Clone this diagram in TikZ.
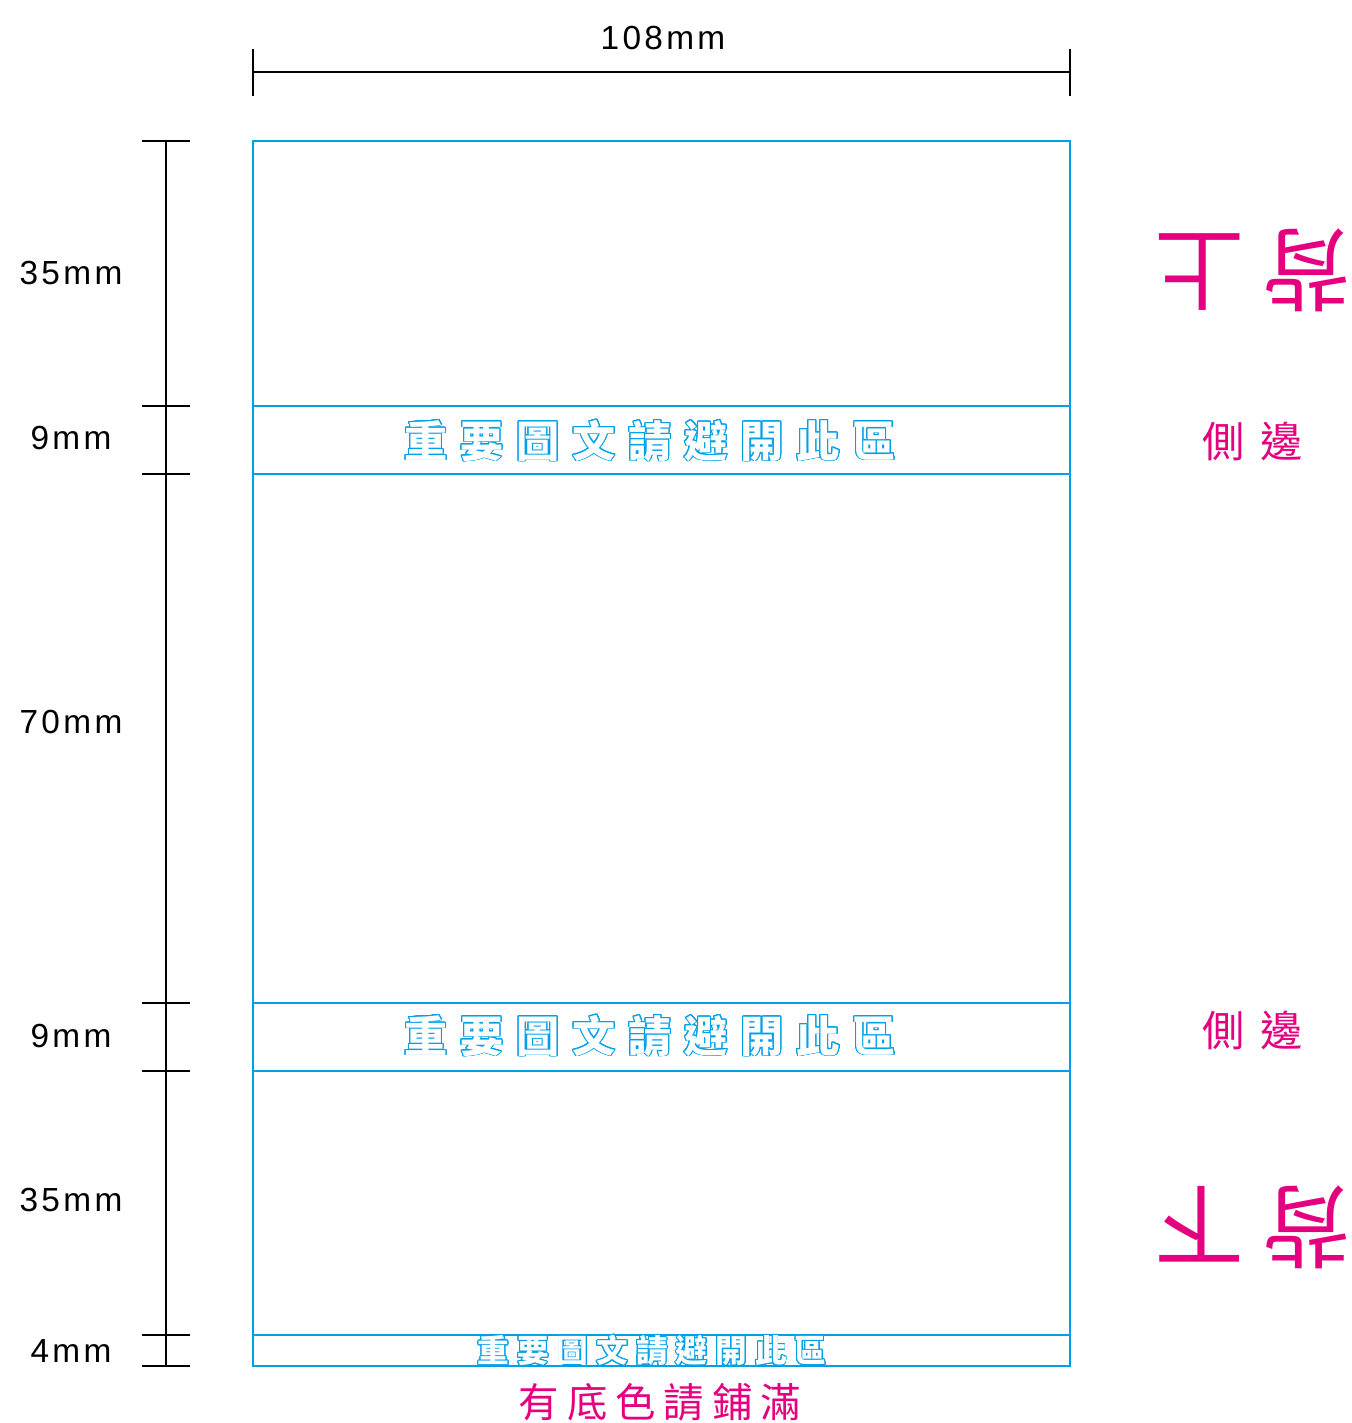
\documentclass[tikz,border=0pt]{standalone}
\usepackage{fontspec}
\usepackage[copies]{contour}
\setmainfont{Liberation Sans}
\newfontfamily\dimfont[LetterSpace=10.0]{Liberation Sans}
\newfontfamily\cjk{Noto Sans CJK TC}
\newfontfamily\cjkb{Noto Sans CJK TC Black}
\definecolor{cy}{HTML}{00A0E9}
\definecolor{mg}{HTML}{E4007F}
\contourlength{0.5pt}
\contournumber{24}
\newcommand{\outl}[1]{\contour{cy}{\textcolor{white}{#1}}}
\newcommand{\wtxt}[1]{\outl{重}\hspace{#1}\outl{要}\hspace{#1}\outl{圖}\hspace{#1}\outl{文}\hspace{#1}\outl{請}\hspace{#1}\outl{避}\hspace{#1}\outl{開}\hspace{#1}\outl{此}\hspace{#1}\outl{區}}
\begin{document}
\begin{tikzpicture}[x=0.02cm,y=-0.02cm,
  dimline/.style={line width=1.3pt,black},
  box/.style={line width=1.3pt,cy},
  dimlab/.style={font=\dimfont\fontsize{19}{19}\selectfont,anchor=center,inner sep=0pt},
  warnbig/.style={font=\cjkb\fontsize{24.5}{24.5}\selectfont,inner sep=0pt},
  warnsmall/.style={font=\cjkb\fontsize{18}{18}\selectfont,inner sep=0pt},
  side/.style={font=\cjk\fontsize{24}{24}\selectfont,text=mg,inner sep=0pt},
  back/.style={font=\cjk\fontsize{51}{51}\selectfont,text=mg,inner sep=0pt,rotate=180},
  fill/.style={font=\cjk\fontsize{23}{23}\selectfont,text=mg,inner sep=0pt}]
\useasboundingbox (0,0) rectangle (1352,1423);
% main box
\coordinate (tl) at (253,141);
\coordinate (br) at (1070,1366);
\draw[box] (tl) rectangle (br);
\foreach \yy/\nm in {406/a,474/b,1003/c,1071/d,1335/e}{
  \coordinate (L\nm) at (253,\yy);
  \coordinate (R\nm) at (1070,\yy);
  \draw[box] (L\nm) -- (R\nm);
}
% top dimension
\coordinate (t1) at (253,72);
\coordinate (t2) at (1070,72);
\draw[dimline] (t1) -- (t2);
\draw[dimline] (253,49) -- (253,96);
\draw[dimline] (1070,49) -- (1070,96);
\node[dimlab] (w) at (663,38) {108mm};
% left dimension
\coordinate (v1) at (166,141);
\coordinate (v2) at (166,1366);
\draw[dimline] (v1) -- (v2);
\foreach \yy in {141,406,474,1003,1071,1335,1366}{
  \draw[dimline] (142,\yy) -- (190,\yy);
}
\node[dimlab] (h1) at (71,273) {35mm};
\node[dimlab] (h2) at (71,438) {9mm};
\node[dimlab] (h3) at (71,722) {70mm};
\node[dimlab] (h4) at (71,1036) {9mm};
\node[dimlab] (h5) at (71,1200) {35mm};
\node[dimlab] (h6) at (71,1351) {4mm};
% warning text
\node[warnbig] (w1) at (650,441) {\wtxt{0.26cm}};
\node[warnbig] (w2) at (650,1036) {\wtxt{0.26cm}};
\node[warnsmall] (w3) at (652,1351) {\wtxt{0.16cm}};
% side labels
\node[side] (s1) at (1253,441) {側\hspace{0.32cm}邊};
\node[side] (s2) at (1253,1030) {側\hspace{0.32cm}邊};
\node[back] (b1) at (1253,270) {背\hspace{0.34cm}上};
\node[back] (b2) at (1253,1227) {背\hspace{0.34cm}下};
\node[fill] (f) at (660,1402) {有\hspace{0.16cm}底\hspace{0.16cm}色\hspace{0.16cm}請\hspace{0.16cm}鋪\hspace{0.16cm}滿};
\end{tikzpicture}
\end{document}
